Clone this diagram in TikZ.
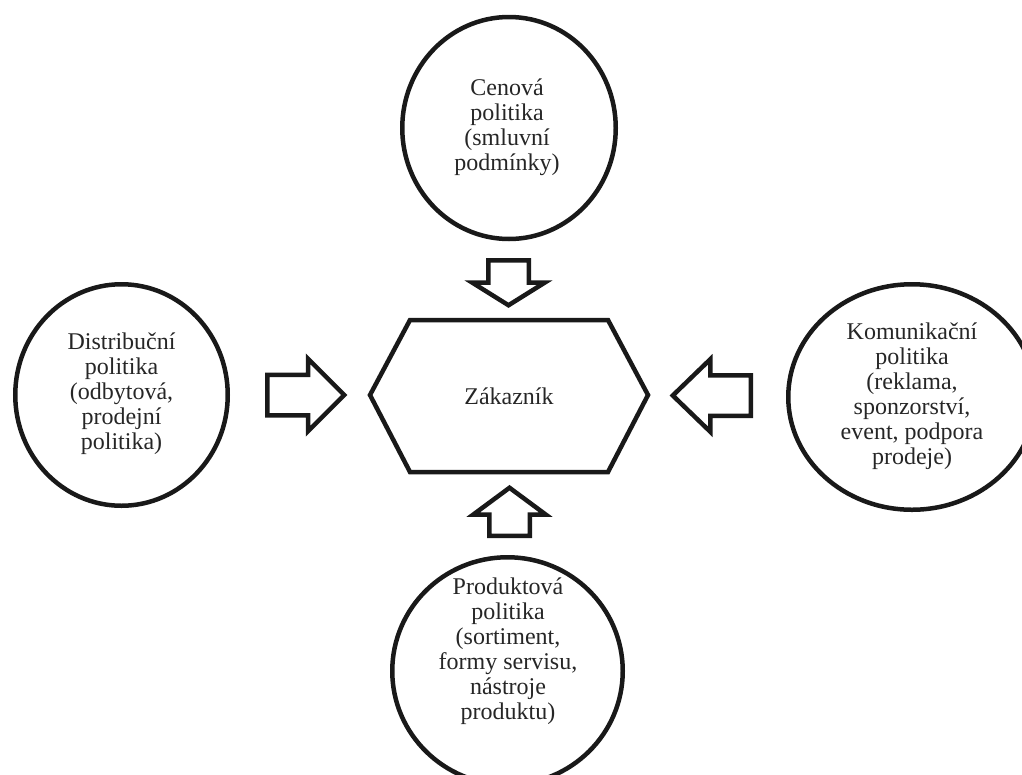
\documentclass[tikz,border=0pt]{standalone}
\usepackage{fontspec}
\setmainfont{Liberation Serif}
\usetikzlibrary{shapes.geometric,shapes.arrows,calc}

\begin{document}
\begin{tikzpicture}[x=1pt,y=-1pt,
  every node/.style={font=\fontsize{24}{25}\selectfont},
  oval/.style={ellipse, draw=black!90, line width=4.5pt, inner sep=0pt},
  txt/.style={align=center, inner sep=0pt, text=black!85},
  blockarrow/.style={single arrow, draw=black!90, line width=4.5pt,
    inner xsep=0pt, inner ysep=18pt, single arrow head extend=16pt,
    single arrow head indent=0pt, anchor=tail},
  hexline/.style={draw=black!90, line width=4.5pt, line join=miter}
]
\useasboundingbox (0,0) rectangle (1022,774);
\clip (0,0) rectangle (1022,774);

% the four policy ovals around the customer
\node[oval, minimum width=213.5pt, minimum height=222pt] (cena) at (509,128) {};
\node[txt] (cenaT) at (507,127) {Cenová\\politika\\(smluvní\\podmínky)};

\node[oval, minimum width=212.5pt, minimum height=221.5pt] (distr) at (121.5,395) {};
\node[txt] (distrT) at (121.5,394) {Distribuční\\politika\\(odbytová,\\prodejní\\politika)};

\node[oval, minimum width=247.5pt, minimum height=225.5pt] (komu) at (912,397) {};
\node[txt] (komuT) at (912,396) {Komunikační\\politika\\(reklama,\\sponzorství,\\event, podpora\\prodeje)};

\node[oval, minimum width=230.5pt, minimum height=227.5pt] (prod) at (507.5,671) {};
\node[txt] (prodT) at (508,651) {Produktová\\politika\\(sortiment,\\formy servisu,\\nástroje\\produktu)};

% customer in the middle
\draw[hexline] (370,395) -- (410,320) -- (608,320) -- (648,395) -- (608,472) -- (410,472) -- cycle;
\node[txt] (zak) at (509,396) {Zákazník};

% block arrows pointing at the customer
\node[blockarrow, minimum height=77pt, single arrow tip angle=90] (aL) at (265,395) {};
\node[blockarrow, rotate=180, minimum height=78pt, single arrow tip angle=88] (aR) at (753,395.5) {};
\node[blockarrow, rotate=-90, minimum height=45pt, single arrow tip angle=116] (aT) at (508.5,258) {};
\node[blockarrow, rotate=90, minimum height=48pt, single arrow tip angle=107] (aB) at (509.5,538) {};
\end{tikzpicture}
\end{document}
